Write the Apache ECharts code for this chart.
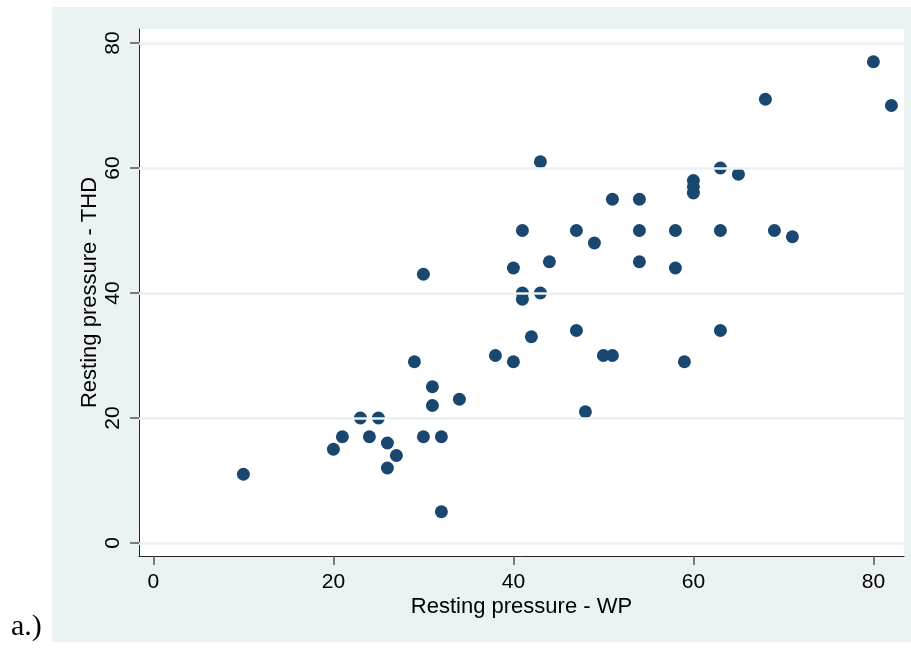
<!DOCTYPE html>
<html><head><meta charset="utf-8">
<script src="https://cdn.jsdelivr.net/npm/echarts@6/dist/echarts.min.js"></script>
<style>html,body{margin:0;padding:0;background:#fff}#c{width:911px;height:649px}</style>
</head><body><div id="c"></div>
<script>
const wp  = [10,20,21,23,24,25,26,26,27,29,30,30,31,31,32,32,34,38,40,40,41,41,41,42,43,43,44,47,47,48,49,50,51,51,54,54,54,58,58,59,60,60,60,63,63,63,65,68,69,71,80,82];
const thd = [11,15,17,20,17,20,16,12,14,29,43,17,25,22,17,5,23,30,44,29,50,40,39,33,61,40,45,50,34,21,48,30,30,55,55,50,45,50,44,29,58,57,56,60,50,34,59,71,50,49,77,70];
const xTicks = [0,20,40,60,80];
const yTicks = [0,20,40,60,80];
const xTitle = 'Resting pressure - WP';
const yTitle = 'Resting pressure - THD';
const panelLabel = 'a.)';

const points = wp.map((x,i)=>[x,thd[i]]);
const chart = echarts.init(document.getElementById('c'), null, {renderer:'canvas'});
const font = 'Liberation Sans, Arial, sans-serif';
chart.setOption({
  backgroundColor:'#ffffff',
  animation:false,
  graphic:[
    {type:'rect', z:-10, shape:{x:52,y:7,width:859,height:635}, style:{fill:'#EAF2F3'}},
    {type:'text', z:10, left:11, top:612, style:{text:panelLabel, font:'30px "Liberation Serif", "Times New Roman", serif', fill:'#000'}}
  ],
  grid:{left:139, top:29, right:7, bottom:93, show:true, backgroundColor:'#ffffff', borderWidth:0},
  xAxis:{
    type:'value', min:-1.6, max:83.4,
    axisLine:{show:true, onZero:false, lineStyle:{color:'#222', width:1}},
    axisTick:{show:true, customValues:xTicks, length:9, lineStyle:{color:'#555', width:1.5}},
    axisLabel:{customValues:xTicks, margin:16, fontSize:21, fontFamily:font, color:'#000'},
    splitLine:{show:false},
    name:xTitle, nameLocation:'middle', nameGap:40, nameMoveOverlap:false,
    nameTextStyle:{fontSize:22, fontFamily:font, color:'#000'}
  },
  yAxis:{
    type:'value', min:-2.08, max:82.24,
    axisLine:{show:true, onZero:false, lineStyle:{color:'#222', width:1}},
    axisTick:{show:true, customValues:yTicks, length:9, lineStyle:{color:'#555', width:1.5}},
    axisLabel:{customValues:yTicks, margin:15, rotate:90, fontSize:21, fontFamily:font, color:'#000'},
    splitLine:{show:false},
    name:yTitle, nameLocation:'middle', nameGap:38, nameRotate:90, nameMoveOverlap:false,
    nameTextStyle:{fontSize:22, fontFamily:font, color:'#000'}
  },
  series:[
    {type:'scatter', data:[], z:1, silent:true,
     markLine:{silent:true, symbol:['none','none'], label:{show:false},
       lineStyle:{color:'#EAF2F3', width:2.5, type:'solid'},
       data: yTicks.map(v=>({yAxis:v}))}},
    {type:'scatter', z:2, data:points, symbol:'circle', symbolSize:13,
     itemStyle:{color:'#1A476F', opacity:1}}
  ]
});
</script></body></html>
